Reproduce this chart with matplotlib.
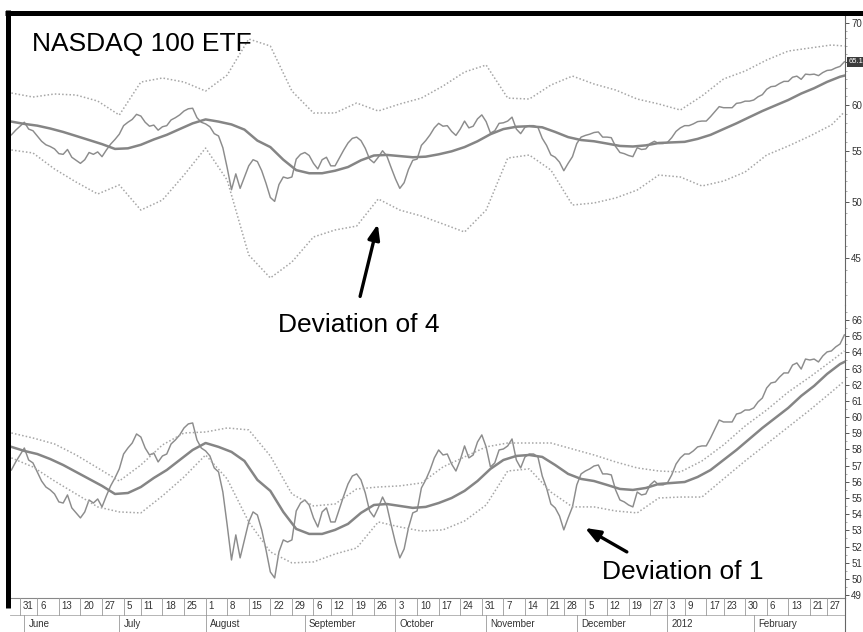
import numpy as np
import pandas as pd
import matplotlib
matplotlib.use('Agg')
import matplotlib.pyplot as plt
from matplotlib.lines import Line2D
from matplotlib.ticker import FixedLocator, NullFormatter

plt.rcParams['font.family'] = ['Liberation Sans Narrow', 'Liberation Sans', 'DejaVu Sans']

# trading calendar of the chart (US market holidays removed)
holidays = ['2011-05-30', '2011-07-04', '2011-09-05', '2011-11-24', '2011-12-26',
            '2012-01-02', '2012-01-16', '2012-02-20']
dates = pd.date_range('2011-05-26', '2012-03-02',
                      freq=pd.offsets.CustomBusinessDay(holidays=holidays))

# daily close of the ETF
price = [56.73, 57.23, 57.66, 58.09, 57.35, 57.17, 56.61, 56.05, 55.68, 55.50,
         55.25, 54.76, 54.69, 55.19, 54.39, 54.08, 53.77, 54.14, 54.88, 54.69,
         54.94, 54.45, 55.13, 55.75, 56.24, 56.80, 57.72, 58.09, 58.40, 58.96,
         58.77, 58.09, 57.66, 57.78, 57.23, 57.60, 57.72, 58.34, 58.59, 58.90,
         59.33, 59.58, 59.64, 58.59, 58.09, 57.91, 57.60, 56.86, 56.61, 55.37,
         53.33, 51.17, 52.72, 51.30, 52.41, 53.52, 54.14, 53.95, 53.03, 51.79,
         50.43, 50.06, 51.67, 52.41, 52.28, 52.41, 54.20, 54.69, 54.88, 54.57,
         53.77, 53.21, 54.14, 54.39, 53.52, 53.52, 54.32, 55.13, 55.87, 56.36,
         56.49, 56.12, 55.31, 54.20, 53.83, 54.39, 55.06, 54.51, 53.33, 52.22,
         51.30, 51.85, 53.15, 54.08, 54.20, 55.62, 56.12, 56.73, 57.48, 57.97,
         57.66, 57.72, 57.10, 56.67, 57.35, 58.22, 57.48, 57.66, 58.46, 58.90,
         58.16, 56.92, 57.17, 57.97, 58.03, 58.22, 58.65, 57.35, 56.86, 57.54,
         57.72, 57.72, 57.54, 56.36, 55.62, 54.63, 54.39, 53.89, 53.03, 53.77,
         54.45, 55.81, 56.49, 56.67, 56.80, 56.98, 57.04, 56.49, 56.49, 56.43,
         55.50, 54.88, 54.76, 54.57, 54.45, 55.37, 55.19, 55.25, 55.81, 56.05,
         55.81, 55.81, 55.93, 56.43, 57.10, 57.48, 57.72, 57.72, 57.91, 58.16,
         58.22, 58.22, 58.71, 59.27, 59.82, 59.70, 59.70, 59.70, 60.19, 60.26,
         60.44, 60.44, 60.57, 60.94, 61.18, 61.80, 62.11, 62.17, 62.48, 62.73,
         62.73, 63.22, 63.35, 62.97, 63.59, 63.53, 63.59, 63.41, 63.78, 64.03,
         64.09, 64.34, 64.52, 65.08]

# moving average, read every 3rd session (plus the last one)
ma_pos = list(range(0, len(dates), 3)) + [len(dates) - 1]
ma = [58.16, 57.91, 57.72, 57.41, 57.04, 56.61, 56.18, 55.75, 55.25, 55.31,
      55.68, 56.24, 56.73, 57.35, 57.97, 58.40, 58.16, 57.85, 57.29, 56.12,
      55.44, 54.14, 53.09, 52.78, 52.78, 53.03, 53.40, 54.08, 54.57, 54.63,
      54.51, 54.39, 54.45, 54.69, 55.00, 55.44, 56.05, 56.80, 57.35, 57.60,
      57.66, 57.54, 57.04, 56.49, 56.18, 56.05, 55.81, 55.56, 55.50, 55.62,
      55.87, 55.93, 55.99, 56.30, 56.73, 57.35, 57.97, 58.65, 59.33, 59.95,
      60.57, 61.31, 61.93, 62.67, 63.28, 63.41]

# envelopes, read every 5th session (plus the last one)
band_pos = list(range(0, len(dates), 5)) + [len(dates) - 1]
upper4 = [61.37, 60.91, 61.26, 61.14, 60.45, 58.88, 62.65, 63.13, 62.65, 61.60,
          63.48, 67.93, 67.04, 61.60, 59.11, 59.11, 60.23, 59.33, 60.12, 60.79,
          62.18, 63.84, 64.69, 60.79, 60.68, 62.30, 63.36, 62.42, 61.72, 60.68,
          60.12, 59.44, 61.03, 63.01, 63.96, 65.30, 66.41, 66.79, 67.17, 67.04]
lower4 = [55.14, 54.83, 53.20, 51.91, 50.76, 51.63, 49.25, 50.19, 52.60, 55.34,
          52.11, 45.26, 43.35, 44.67, 46.82, 47.44, 47.79, 50.29, 49.25, 48.70,
          47.98, 47.26, 49.25, 54.31, 54.62, 53.10, 49.72, 49.91, 50.38, 51.14,
          52.60, 52.41, 51.53, 52.01, 52.90, 54.62, 55.55, 56.60, 57.79, 59.22]
upper1 = [59.02, 58.71, 58.34, 57.66, 56.86, 56.05, 57.04, 58.28, 59.02, 59.08,
          59.33, 59.21, 57.60, 55.25, 54.51, 54.63, 55.56, 55.68, 55.75, 55.93,
          56.92, 57.54, 58.16, 58.40, 58.40, 58.40, 58.03, 57.66, 57.23, 56.86,
          56.67, 56.61, 57.29, 58.28, 59.45, 60.44, 61.55, 62.48, 63.47, 64.09]
lower1 = [57.48, 56.92, 56.05, 55.25, 54.45, 54.14, 54.08, 55.13, 56.30, 57.66,
          56.18, 53.52, 51.67, 50.99, 51.05, 51.54, 51.91, 53.52, 53.21, 52.96,
          53.03, 53.58, 54.57, 56.67, 56.80, 55.37, 54.45, 54.45, 54.20, 54.08,
          55.00, 55.06, 55.06, 56.18, 57.29, 58.34, 59.39, 60.44, 61.55, 62.23]

week_starts = ['2011-05-31', '2011-06-06', '2011-06-13', '2011-06-20', '2011-06-27',
               '2011-07-05', '2011-07-11', '2011-07-18', '2011-07-25', '2011-08-01',
               '2011-08-08', '2011-08-15', '2011-08-22', '2011-08-29', '2011-09-06',
               '2011-09-12', '2011-09-19', '2011-09-26', '2011-10-03', '2011-10-10',
               '2011-10-17', '2011-10-24', '2011-10-31', '2011-11-07', '2011-11-14',
               '2011-11-21', '2011-11-28', '2011-12-05', '2011-12-12', '2011-12-19',
               '2011-12-27', '2012-01-03', '2012-01-09', '2012-01-17', '2012-01-23',
               '2012-01-30', '2012-02-06', '2012-02-13', '2012-02-21', '2012-02-27']
month_starts = ['2011-06-01', '2011-07-01', '2011-08-01', '2011-09-01', '2011-10-03',
                '2011-11-01', '2011-12-01', '2012-01-03', '2012-02-01']
month_labels = ['June', 'July', 'August', 'September', 'October',
                'November', 'December', '2012', 'February']

# price scale labels (65 on the upper scale sits under the last-price flag)
top_ticks = [45, 50, 55, 60, 65, 70]
top_labels = ['45', '50', '55', '60', '', '70']
bot_ticks = list(range(49, 67))
bot_labels = [str(t) for t in bot_ticks]

x = np.arange(len(dates))
week_pos = dates.get_indexer(pd.to_datetime(week_starts))
month_pos = dates.get_indexer(pd.to_datetime(month_starts))
week_days = [str(pd.Timestamp(d).day) for d in week_starts]

W, H = 863, 632
def px_rect(x0, y0, x1, y1):
    return [x0 / W, 1 - y1 / H, (x1 - x0) / W, (y1 - y0) / H]

fig = plt.figure(figsize=(W / 100, H / 100), dpi=100)
ax_top = fig.add_axes(px_rect(10, 14, 845, 305))
ax_bot = fig.add_axes(px_rect(10, 305, 845, 598))
ax_date = fig.add_axes(px_rect(10, 598, 845, 632))
xlim = (-0.32, 193.15)

price_c = '#8c8c8c'
ma_c = '#858585'
band_c = '#a6a6a6'
dots = (0, (1, 1.4))

# top panel: deviation of 4
ax_top.plot(x, price, color=price_c, lw=1.05)
ax_top.plot(ma_pos, ma, color=ma_c, lw=1.8, solid_joinstyle='round')
ax_top.plot(band_pos, upper4, color=band_c, lw=1.1, ls=dots)
ax_top.plot(band_pos, lower4, color=band_c, lw=1.1, ls=dots)
ax_top.set_yscale('log')
ax_top.set_ylim(41.2, 71.2)

# bottom panel: deviation of 1
ax_bot.plot(x, price, color=price_c, lw=1.05)
ax_bot.plot(ma_pos, ma, color=ma_c, lw=1.8, solid_joinstyle='round')
ax_bot.plot(band_pos, upper1, color=band_c, lw=1.1, ls=dots)
ax_bot.plot(band_pos, lower1, color=band_c, lw=1.1, ls=dots)
ax_bot.set_ylim(48.82, 66.93)

for ax, ticks, labels, minor in ((ax_top, top_ticks, top_labels, np.arange(42, 72)),
                                 (ax_bot, bot_ticks, bot_labels, np.arange(48.5, 67, 0.5))):
    ax.set_xlim(*xlim)
    ax.set_xticks([])
    for s in ('left', 'top', 'bottom'):
        ax.spines[s].set_visible(False)
    ax.spines['right'].set_color('#666666')
    ax.spines['right'].set_linewidth(0.8)
    ax.yaxis.tick_right()
    ax.set_yticks(ticks, labels=labels)
    ax.yaxis.set_minor_locator(FixedLocator(minor))
    ax.yaxis.set_minor_formatter(NullFormatter())
    ax.tick_params(axis='y', which='major', direction='out', length=3, width=0.7,
                   colors='#555555', labelcolor='#333333', labelsize=7, pad=1.5)
    ax.tick_params(axis='y', which='minor', direction='out', length=1.5, width=0.5,
                   colors='#888888')
    for lab in ax.get_yticklabels():
        lab.set_fontfamily('Liberation Sans')
    ax.patch.set_alpha(0)

# last price flag
ax_top.text(1.004, price[-1], '%.1f' % price[-1], transform=ax_top.get_yaxis_transform(),
            fontsize=5.5, family='Liberation Sans', color='white', ha='left', va='center',
            bbox=dict(boxstyle='square,pad=0.2', fc='#3c3c3c', ec='none'))

# date strip
ax_date.set_xlim(*xlim)
ax_date.set_ylim(0, 1)
ax_date.axis('off')
mid = 0.5
ax_date.plot(xlim, [1, 1], color='#888888', lw=0.8, clip_on=False)
ax_date.plot(xlim, [mid, mid], color='#aaaaaa', lw=0.6, clip_on=False)
ax_date.plot([xlim[1], xlim[1]], [0, 1], color='#666666', lw=0.8, clip_on=False)
for p, lab in zip(week_pos, week_days):
    ax_date.plot([p, p], [mid, 1], color='#999999', lw=0.6)
    ax_date.annotate(lab, (p, 0.76), xytext=(2, 0), textcoords='offset points',
                     ha='left', va='center', fontsize=7, color='#333333')
for p, lab in zip(month_pos, month_labels):
    ax_date.plot([p, p], [0, mid], color='#999999', lw=0.6)
    ax_date.annotate(lab, (p, 0.24), xytext=(3, 0), textcoords='offset points',
                     ha='left', va='center', fontsize=7, color='#333333')

# heavy frame on top and left
fig.add_artist(Line2D([5 / W, 1], [1 - 12.5 / H, 1 - 12.5 / H], transform=fig.transFigure,
                      color='black', lw=3.6, solid_capstyle='butt'))
fig.add_artist(Line2D([7.5 / W, 7.5 / W], [1 - 10 / H, 1 - 608 / H], transform=fig.transFigure,
                      color='black', lw=3.6, solid_capstyle='butt'))

# labels and arrows
ax_top.text(0.0263, 0.897, 'NASDAQ 100 ETF', transform=ax_top.transAxes,
            fontsize=19, family='Liberation Sans', ha='left', va='center', color='black')
ax_top.annotate('', xy=(84.9, 47.97), xytext=(80.8, 41.87), annotation_clip=False,
                arrowprops=dict(arrowstyle='-|>,head_length=0.9,head_width=0.35',
                                color='black', lw=2.4, shrinkA=0, shrinkB=0))
ax_top.text(80.5, 39.67, 'Deviation of 4', fontsize=19, family='Liberation Sans',
            ha='center', va='center', color='black')
ax_bot.annotate('', xy=(132.9, 53.15), xytext=(142.6, 51.67), annotation_clip=False,
                arrowprops=dict(arrowstyle='-|>,head_length=0.9,head_width=0.35',
                                color='black', lw=2.4, shrinkA=0, shrinkB=0))
ax_bot.text(155.6, 50.43, 'Deviation of 1', fontsize=19, family='Liberation Sans',
            ha='center', va='center', color='black')

fig.savefig('out.png', dpi=100)
